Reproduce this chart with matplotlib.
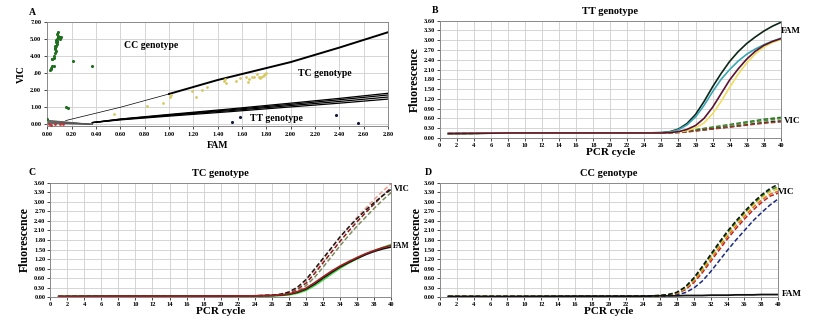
import numpy as np
import matplotlib
matplotlib.use("Agg")
import matplotlib.pyplot as plt

plt.rcParams['font.family'] = ['Liberation Serif', 'DejaVu Serif']
plt.rcParams['font.weight'] = 'bold'

# ---------------- panel A : allelic discrimination ----------------
cc_x = [0.03, 0.04, 0.05, 0.04, 0.05, 0.06, 0.06, 0.07, 0.07, 0.08, 0.08, 0.09, 0.09, 0.10,
        0.07, 0.08, 0.06, 0.05, 0.07, 0.08, 0.09, 0.10, 0.11, 0.08, 0.06, 0.03, 0.02, 0.04,
        0.21, 0.37, 0.15, 0.17, 0.00]
cc_y = [3.30, 3.40, 3.45, 3.85, 4.00, 4.20, 4.50, 4.60, 4.80, 4.90, 5.00, 5.10, 5.20, 5.15,
        4.30, 4.70, 4.40, 3.90, 4.95, 5.30, 5.40, 5.00, 5.10, 4.85, 4.60, 3.25, 3.20, 3.85,
        3.70, 3.40, 1.00, 0.98, 0.30]
tc_x = [0.55, 0.82, 0.95, 1.01, 1.02, 1.19, 1.22, 1.27, 1.31, 1.45, 1.47, 1.46, 1.55, 1.58,
        1.63, 1.65, 1.66, 1.68, 1.72, 1.74, 1.76, 1.77, 1.78, 1.80, 1.79, 1.70, 1.75]
tc_y = [0.62, 1.08, 1.25, 1.60, 1.70, 1.95, 1.60, 2.00, 2.20, 2.55, 2.45, 2.65, 2.55, 2.70,
        2.75, 2.50, 2.65, 2.80, 2.95, 2.75, 2.80, 2.85, 2.90, 3.00, 2.95, 2.80, 2.70]
tt_x = [1.52, 1.58, 2.37, 2.55]
tt_y = [0.15, 0.42, 0.55, 0.08]
ntc_x = [0.01, 0.03, 0.06, 0.10, 0.13]
ntc_y = [0.02, -0.02, 0.01, -0.01, 0.00]

upper_x = [0.15, 0.60, 1.00, 1.40, 2.00, 2.40, 2.80]
upper_y = [0.22, 1.00, 1.78, 2.60, 3.65, 4.50, 5.40]
lower_x = [0.37, 0.60, 1.00, 1.50, 2.00, 2.40, 2.80]
lower_ys = [[0.10, 0.26, 0.48, 0.74, 1.02, 1.24, 1.48],
            [0.10, 0.28, 0.52, 0.80, 1.10, 1.34, 1.60],
            [0.10, 0.30, 0.55, 0.85, 1.17, 1.44, 1.72],
            [0.10, 0.31, 0.58, 0.90, 1.24, 1.52, 1.82]]
fan_x = [0.00, 0.37]
fan_starts = [0.04, 0.08, 0.12, 0.16, 0.20, 0.24]

a_yticks = [0, 1, 2, 3, 4, 5, 6]
a_ylabels = ['0.00', '1.00', '2.00', '.00', '4.00', '5.00', '7.00']
a_xticks = [0.0, 0.2, 0.4, 0.6, 0.8, 1.0, 1.2, 1.4, 1.6, 1.8, 2.0, 2.2, 2.4, 2.6, 2.8]

# ---------------- amplification curves (B, C, D) ----------------
cycles = [1, 8, 16, 24, 26, 27, 28, 29, 30, 31, 32, 33, 34, 35, 36, 37, 38, 39, 40]

b_fam = {
    '#0d2618': [0.13, 0.15, 0.15, 0.15, 0.16, 0.19, 0.27, 0.44, 0.72, 1.12, 1.57, 1.98, 2.35, 2.65, 2.90, 3.10, 3.28, 3.43, 3.55],
    '#3aa6b6': [0.13, 0.15, 0.15, 0.15, 0.16, 0.18, 0.25, 0.40, 0.64, 1.00, 1.42, 1.80, 2.10, 2.36, 2.57, 2.73, 2.86, 2.97, 3.06],
    '#f0dc60': [0.13, 0.15, 0.15, 0.15, 0.15, 0.16, 0.18, 0.22, 0.31, 0.46, 0.74, 1.12, 1.55, 1.96, 2.30, 2.58, 2.79, 2.93, 3.02],
    '#5c1230': [0.13, 0.15, 0.15, 0.15, 0.15, 0.16, 0.19, 0.26, 0.38, 0.60, 0.94, 1.36, 1.78, 2.12, 2.42, 2.66, 2.84, 2.96, 3.05],
}
b_vic = {
    '#1e6e1e': [0.13, 0.15, 0.15, 0.15, 0.15, 0.16, 0.18, 0.21, 0.25, 0.29, 0.33, 0.37, 0.41, 0.45, 0.49, 0.53, 0.57, 0.60, 0.63],
    '#4f8f2f': [0.13, 0.15, 0.15, 0.15, 0.15, 0.16, 0.18, 0.20, 0.24, 0.28, 0.31, 0.35, 0.39, 0.42, 0.46, 0.50, 0.53, 0.56, 0.59],
    '#222222': [0.13, 0.15, 0.15, 0.15, 0.15, 0.16, 0.17, 0.19, 0.22, 0.25, 0.28, 0.31, 0.34, 0.37, 0.40, 0.44, 0.47, 0.50, 0.52],
    '#9a3c2a': [0.13, 0.15, 0.15, 0.15, 0.15, 0.15, 0.16, 0.18, 0.21, 0.24, 0.27, 0.30, 0.33, 0.36, 0.39, 0.42, 0.45, 0.47, 0.49],
}

c_vic = {
    '#7d8a5a': [0.02, 0.03, 0.03, 0.04, 0.05, 0.07, 0.11, 0.19, 0.36, 0.62, 0.94, 1.28, 1.62, 1.94, 2.24, 2.52, 2.80, 3.06, 3.30],
    '#8b1a1a': [0.02, 0.03, 0.03, 0.04, 0.05, 0.08, 0.13, 0.25, 0.44, 0.74, 1.08, 1.42, 1.76, 2.08, 2.38, 2.66, 2.94, 3.20, 3.45],
    '#e8a090': [0.02, 0.03, 0.03, 0.04, 0.06, 0.09, 0.15, 0.29, 0.52, 0.84, 1.18, 1.54, 1.88, 2.20, 2.52, 2.80, 3.08, 3.34, 3.58],
    '#1a1a1a': [0.02, 0.03, 0.03, 0.04, 0.06, 0.09, 0.16, 0.31, 0.55, 0.88, 1.22, 1.56, 1.90, 2.20, 2.48, 2.74, 2.98, 3.20, 3.40],
}
c_fam = {
    '#3ad43a': [0.02, 0.03, 0.03, 0.04, 0.04, 0.05, 0.07, 0.12, 0.21, 0.36, 0.54, 0.73, 0.91, 1.07, 1.21, 1.35, 1.46, 1.56, 1.66],
    '#111111': [0.02, 0.03, 0.03, 0.04, 0.05, 0.06, 0.09, 0.15, 0.25, 0.41, 0.60, 0.78, 0.95, 1.09, 1.22, 1.34, 1.44, 1.52, 1.58],
    '#9b2020': [0.02, 0.03, 0.03, 0.04, 0.05, 0.07, 0.10, 0.17, 0.28, 0.45, 0.64, 0.82, 0.98, 1.12, 1.25, 1.37, 1.47, 1.56, 1.63],
}

d_vic = {
    '#1a2a80': [0.02, 0.02, 0.02, 0.02, 0.03, 0.04, 0.07, 0.14, 0.28, 0.50, 0.80, 1.14, 1.48, 1.80, 2.10, 2.40, 2.66, 2.90, 3.10],
    '#c02020': [0.02, 0.02, 0.02, 0.03, 0.04, 0.06, 0.11, 0.23, 0.45, 0.76, 1.12, 1.48, 1.84, 2.16, 2.46, 2.74, 2.98, 3.18, 3.28],
    '#e07020': [0.02, 0.02, 0.02, 0.03, 0.04, 0.07, 0.12, 0.26, 0.50, 0.82, 1.18, 1.56, 1.92, 2.24, 2.54, 2.82, 3.06, 3.24, 3.34],
    '#e0c020': [0.02, 0.02, 0.02, 0.03, 0.05, 0.07, 0.13, 0.28, 0.54, 0.88, 1.26, 1.64, 2.00, 2.32, 2.62, 2.90, 3.14, 3.32, 3.42],
    '#2a8a2a': [0.02, 0.02, 0.02, 0.03, 0.05, 0.08, 0.14, 0.30, 0.57, 0.92, 1.30, 1.68, 2.04, 2.36, 2.66, 2.94, 3.18, 3.38, 3.48],
    '#111111': [0.02, 0.02, 0.02, 0.03, 0.05, 0.08, 0.15, 0.32, 0.60, 0.96, 1.34, 1.72, 2.08, 2.40, 2.70, 2.98, 3.22, 3.42, 3.56],
}
d_fam = [0.02, 0.02, 0.03, 0.03, 0.04, 0.04, 0.04, 0.05, 0.05, 0.05, 0.06, 0.06, 0.06, 0.07, 0.07, 0.07, 0.08, 0.08, 0.08]

amp_xticks = list(range(0, 41, 2))
amp_yticks = [0.0, 0.3, 0.6, 0.9, 1.2, 1.5, 1.8, 2.1, 2.4, 2.7, 3.0, 3.3, 3.6]

grid_c = '#cfcfcf'
tick_fs = 4.6


def style_amp(ax, title, letter, lx):
    ax.set_xlim(0, 40)
    ax.set_ylim(0, 3.6)
    ax.set_xticks(amp_xticks)
    ax.set_yticks(amp_yticks)
    ax.set_yticklabels(['%.2f' % v for v in amp_yticks])
    ax.grid(True, color=grid_c, lw=0.6)
    ax.set_axisbelow(True)
    ax.tick_params(labelsize=tick_fs, length=2, width=0.5, pad=1.5)
    for s in ax.spines.values():
        s.set_color('#8a8a8a')
        s.set_linewidth(0.7)
    ax.set_xlabel('PCR cycle', fontsize=8, fontweight='bold', labelpad=0)
    ax.set_ylabel('Fluorescence', fontsize=8.5, fontweight='bold', labelpad=2)
    ax.set_title(title, fontsize=7.5, fontweight='bold', pad=5)
    ax.text(lx, 1.09, letter, transform=ax.transAxes, fontsize=7, fontweight='bold',
            ha='center', va='center')


fig = plt.figure(figsize=(8.36, 3.29), dpi=100)

# panel A
axA = fig.add_axes([0.056, 0.617, 0.408, 0.316])
for y0 in fan_starts:
    axA.plot(fan_x, [y0, 0.0], color='#555555', lw=0.6)
axA.plot(upper_x[:3], upper_y[:3], color='black', lw=0.5)
axA.plot(upper_x[2:], upper_y[2:], color='black', lw=1.4)
for ly in lower_ys:
    axA.plot(lower_x, ly, color='black', lw=0.9)
axA.scatter(cc_x, cc_y, s=5, color='#1e6e1e', zorder=3, linewidths=0)
axA.scatter(tc_x, tc_y, s=4, color='#d8c860', zorder=3, linewidths=0)
axA.scatter(tt_x, tt_y, s=5, color='#101840', zorder=3, linewidths=0)
axA.scatter(ntc_x, ntc_y, s=4, color='#c03030', zorder=3, linewidths=0)
axA.set_xlim(-0.005, 2.8)
axA.set_ylim(-0.1, 6.0)
axA.set_xticks(a_xticks)
axA.set_xticklabels(['%.2f' % v for v in a_xticks])
axA.set_yticks(a_yticks)
axA.set_yticklabels(a_ylabels)
axA.grid(True, color=grid_c, lw=0.6)
axA.set_axisbelow(True)
axA.tick_params(labelsize=tick_fs, length=2, width=0.5, pad=2)
for s in axA.spines.values():
    s.set_color('#8a8a8a')
    s.set_linewidth(0.7)
axA.set_xlabel('FAM', fontsize=7, fontweight='bold', labelpad=3)
axA.set_ylabel('VIC', fontsize=7, fontweight='bold', labelpad=3)
axA.text(0.85, 4.6, 'CC genotype', fontsize=7, fontweight='bold', ha='center', va='center')
axA.text(2.28, 2.96, 'TC genotype', fontsize=7, fontweight='bold', ha='center', va='center')
axA.text(1.88, 0.33, 'TT genotype', fontsize=7, fontweight='bold', ha='center', va='center')
axA.text(-0.041, 1.096, 'A', transform=axA.transAxes, fontsize=7, fontweight='bold',
         ha='center', va='center')

# panel B
axB = fig.add_axes([0.526, 0.581, 0.408, 0.356])
for c, v in b_vic.items():
    axB.plot(cycles, v, color=c, lw=1.1, ls=(0, (3, 1.5)))
for c, v in b_fam.items():
    axB.plot(cycles, v, color=c, lw=1.2)
style_amp(axB, 'TT genotype', 'B', -0.015)
axB.text(40.0, 3.28, 'FAM', fontsize=6.5, fontweight='bold', va='center')
axB.text(40.4, 0.52, 'VIC', fontsize=6.5, fontweight='bold', va='center')

# panel C
axC = fig.add_axes([0.060, 0.097, 0.408, 0.347])
for c, v in c_vic.items():
    axC.plot(cycles, v, color=c, lw=1.1, ls=(0, (3, 1.5)))
for c, v in c_fam.items():
    axC.plot(cycles, v, color=c, lw=1.2)
style_amp(axC, 'TC genotype', 'C', -0.053)
axC.text(40.3, 3.42, 'VIC', fontsize=6.2, fontweight='bold', va='center')
axC.text(40.15, 1.60, 'FAM', fontsize=5.5, fontweight='bold', va='center')

# panel D
axD = fig.add_axes([0.526, 0.097, 0.405, 0.347])
for c, v in d_vic.items():
    axD.plot(cycles, v, color=c, lw=1.1, ls=(0, (3, 1.5)))
axD.plot(cycles, d_fam, color='#111111', lw=1.3)
style_amp(axD, 'CC genotype', 'D', -0.035)
axD.yaxis.labelpad = 0.5
axD.text(40.0, 3.30, 'VIC', fontsize=6.5, fontweight='bold', va='center')
axD.text(40.4, 0.10, 'FAM', fontsize=6.5, fontweight='bold', va='center')

fig.savefig('out.png', dpi=100)
